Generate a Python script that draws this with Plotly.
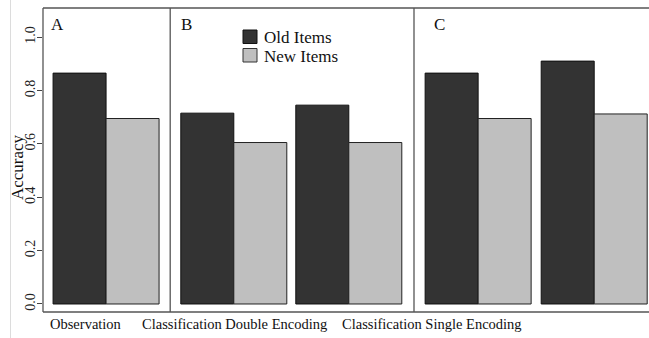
import plotly.graph_objects as go

# ---- data ----
panels = ["A", "B", "C"]
conditions = ["Observation", "Classification Double Encoding", "Classification Single Encoding"]
old_items = [[0.865], [0.715, 0.745], [0.865, 0.91]]
new_items = [[0.695], [0.605, 0.605], [0.695, 0.712]]
y_ticks = [0.0, 0.2, 0.4, 0.6, 0.8, 1.0]
y_tick_labels = ["0.0", "0.2", "0.4", "0.6", "0.8", "1.0"]

# ---- layout (in bar-width units) ----
pair_starts = [[0.19], [2.60, 4.77], [7.21, 9.40]]
dividers = [2.40, 7.00]
label_centers = [0.81, 3.62, 7.34]
letter_x = [0.27, 2.71, 7.49]

W, H = 649, 338
L, R, T, B = 43, 0, 8, 26
unit = 53.0
x_range = [0, (W - L - R) / unit]
y_range = [-0.030, 1.109]

DARK = "#333333"
LIGHT = "#bfbfbf"
FONT = "Liberation Serif"

old_x, old_y, new_x, new_y = [], [], [], []
for starts, ov, nv in zip(pair_starts, old_items, new_items):
    for s, o, n in zip(starts, ov, nv):
        old_x.append(s + 0.5); old_y.append(o)
        new_x.append(s + 1.5); new_y.append(n)

fig = go.Figure()
fig.add_trace(go.Bar(x=old_x, y=old_y, width=1.0, name="Old Items",
                     marker=dict(color=DARK, line=dict(color="#111111", width=1))))
fig.add_trace(go.Bar(x=new_x, y=new_y, width=1.0, name="New Items",
                     marker=dict(color=LIGHT, line=dict(color="#222222", width=1))))

shapes = []
line_col = "#555555"
shapes.append(dict(type="line", xref="paper", yref="paper", x0=0, x1=0, y0=0, y1=1,
                   line=dict(color=line_col, width=1.3)))
shapes.append(dict(type="line", xref="paper", yref="paper", x0=0, x1=1, y0=1, y1=1,
                   line=dict(color=line_col, width=1.3)))
shapes.append(dict(type="line", xref="paper", yref="paper", x0=0, x1=1, y0=0, y1=0,
                   line=dict(color=line_col, width=1.3)))
for d in dividers:
    shapes.append(dict(type="line", xref="x", yref="paper", x0=d, x1=d, y0=0, y1=1,
                       line=dict(color=line_col, width=1.3)))
pw = W - L - R
ph = H - T - B
def px(xp):
    return (xp - L) / pw
def py(yp):
    return (H - B - yp) / ph
shapes.append(dict(type="line", xref="paper", yref="paper", x0=px(10.5), x1=px(10.5),
                   y0=py(0), y1=py(338), line=dict(color="#dcdcdc", width=1)))

shapes.append(dict(type="rect", xref="paper", yref="paper", x0=px(243), x1=px(257),
                   y0=py(43.5), y1=py(30), fillcolor=DARK, line=dict(color="#111111", width=1)))
shapes.append(dict(type="rect", xref="paper", yref="paper", x0=px(243), x1=px(257),
                   y0=py(62), y1=py(48.5), fillcolor=LIGHT, line=dict(color="#333333", width=1)))

annotations = []
for name, yy in [("Old Items", 37), ("New Items", 56)]:
    annotations.append(dict(text=name, xref="paper", yref="paper", x=px(262), y=py(yy),
                            xanchor="left", yanchor="middle", showarrow=False,
                            font=dict(family=FONT, size=17, color="#111111")))
for lx, letter in zip(letter_x, panels):
    annotations.append(dict(text=letter, xref="x", yref="paper", x=lx, y=py(24),
                            xanchor="center", yanchor="middle", showarrow=False,
                            font=dict(family=FONT, size=17, color="#111111")))
for cx, cond in zip(label_centers, conditions):
    annotations.append(dict(text=cond, xref="x", yref="paper", x=cx, y=py(324),
                            xanchor="center", yanchor="middle", showarrow=False,
                            font=dict(family=FONT, size=14.5, color="#111111")))
annotations.append(dict(text="Accuracy", xref="paper", yref="paper", x=px(17), y=py(167),
                        xanchor="center", yanchor="middle", textangle=-90, showarrow=False,
                        font=dict(family=FONT, size=17, color="#111111")))

fig.update_layout(
    width=W, height=H,
    margin=dict(l=L, r=R, t=T, b=B, pad=0),
    paper_bgcolor="white", plot_bgcolor="white",
    showlegend=False, barmode="overlay",
    shapes=shapes, annotations=annotations,
    xaxis=dict(range=x_range, showticklabels=False, ticks="", showgrid=False,
               zeroline=False, showline=False),
    yaxis=dict(range=y_range, tickvals=y_ticks, ticktext=y_tick_labels, tickangle=-90,
               ticks="outside", ticklen=5, tickcolor="#444444", tickwidth=1,
               ticklabelstandoff=-4, automargin=False,
               showgrid=False, zeroline=False, showline=False,
               tickfont=dict(family=FONT, size=14, color="#222222")),
)

fig.write_html("out.html", config={"displayModeBar": False},
               post_script="document.body.style.margin='0';document.body.style.padding='0';"
                           "document.documentElement.style.overflow='hidden';")
